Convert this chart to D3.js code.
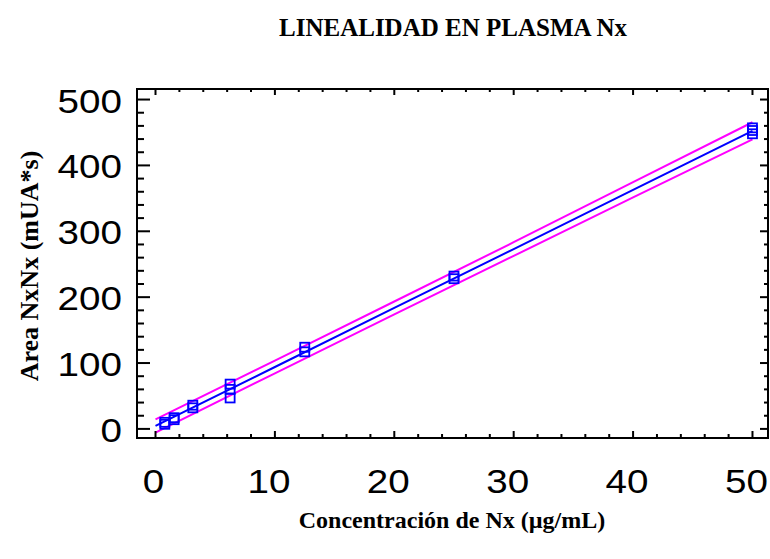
<!DOCTYPE html>
<html>
<head>
<meta charset="utf-8">
<script src="https://cdn.jsdelivr.net/npm/d3@7"></script>
<style>
  body { margin: 0; background: #fff; }
  svg { display: block; }
</style>
</head>
<body>
<div id="chart"></div>
<script>
// observed points (concentration, area)
var concX = [0.78, 0.78, 1.56, 1.56, 3.125, 3.125, 6.25, 6.25, 6.25, 12.5, 12.5, 25, 25, 50, 50, 50];
var areaY = [7, 10, 14, 17, 32, 36, 47, 60, 68, 117, 124, 228, 232, 448, 453, 457];

// fitted line and prediction limits
var fitX   = [0, 10, 20, 30, 40, 50];
var fitY   = [4.5, 94, 183.7, 273, 363, 452.5];
var upperY = [14.5, 103.6, 193.4, 283.4, 374.5, 465.5];
var lowerY = [-5.5, 84.4, 174, 262.6, 351.5, 439.5];

var xTicks = [0, 10, 20, 30, 40, 50];
var yTicks = [0, 100, 200, 300, 400, 500];

var width = 770, height = 559;
var margin = {top: 89, right: 2, bottom: 121, left: 137};

var svg = d3.select("#chart").append("svg")
  .attr("width", width)
  .attr("height", height);

var x = d3.scaleLinear().domain([-1.55, 51.3]).range([margin.left, width - margin.right]);
var y = d3.scaleLinear().domain([-13.8, 516]).range([height - margin.bottom, margin.top]);

var serif = "'Liberation Serif', 'Times New Roman', serif";
var sans = "'Liberation Sans', Arial, sans-serif";

// title
svg.append("text")
  .attr("x", 453).attr("y", 36)
  .attr("text-anchor", "middle")
  .style("font-family", serif).style("font-weight", "bold").style("font-size", "25px")
  .text("LINEALIDAD EN PLASMA Nx");

// clip for marks
svg.append("clipPath").attr("id", "clip")
  .append("rect")
  .attr("x", margin.left).attr("y", margin.top)
  .attr("width", width - margin.right - margin.left)
  .attr("height", height - margin.bottom - margin.top);

var plot = svg.append("g").attr("clip-path", "url(#clip)");

var line = d3.line()
  .x(function(d) { return x(d[0]); })
  .y(function(d) { return y(d[1]); });

plot.append("path")
  .datum(d3.zip(fitX, upperY))
  .attr("d", line)
  .attr("fill", "none").attr("stroke", "#ff00ff").attr("stroke-width", 2);

plot.append("path")
  .datum(d3.zip(fitX, lowerY))
  .attr("d", line)
  .attr("fill", "none").attr("stroke", "#ff00ff").attr("stroke-width", 2);

plot.append("path")
  .datum(d3.zip(fitX, fitY))
  .attr("d", line)
  .attr("fill", "none").attr("stroke", "#0000ff").attr("stroke-width", 2);

// points as open squares
var sq = 9;
plot.selectAll(".pt")
  .data(d3.zip(concX, areaY))
  .enter().append("rect")
  .attr("class", "pt")
  .attr("x", function(d) { return x(d[0]) - sq / 2; })
  .attr("y", function(d) { return y(d[1]) - sq / 2; })
  .attr("width", sq).attr("height", sq)
  .attr("fill", "none").attr("stroke", "#0000ff").attr("stroke-width", 1.8);

// frame
var x0 = x.range()[0], x1 = x.range()[1], y0 = y.range()[0], y1 = y.range()[1];
svg.append("rect")
  .attr("x", x0).attr("y", y1)
  .attr("width", x1 - x0).attr("height", y0 - y1)
  .attr("fill", "none").attr("stroke", "#000").attr("stroke-width", 2);

// ticks, drawn inward on all four sides
var xMinor = d3.range(0, 51, 2);
var yMinor = d3.range(0, 501, 20);

function isMajorX(v) { return xTicks.indexOf(v) >= 0; }
function isMajorY(v) { return yTicks.indexOf(v) >= 0; }

var tk = svg.append("g").attr("stroke", "#000").attr("stroke-width", 2);

xMinor.forEach(function(v) {
  var big = isMajorX(v);
  tk.append("line").attr("x1", x(v)).attr("x2", x(v))
    .attr("y1", y0).attr("y2", y0 - (big ? 7 : 4));
  tk.append("line").attr("x1", x(v)).attr("x2", x(v))
    .attr("y1", y1).attr("y2", y1 + (big ? 6 : 3));
});
yMinor.forEach(function(v) {
  var big = isMajorY(v);
  tk.append("line").attr("x1", x0).attr("x2", x0 + (big ? 13 : 7))
    .attr("y1", y(v)).attr("y2", y(v));
  tk.append("line").attr("x1", x1).attr("x2", x1 - (big ? 8 : 4))
    .attr("y1", y(v)).attr("y2", y(v));
});

// tick labels (the original digits are a bit wide, so stretch them)
var stretch = 1.17;

svg.selectAll(".xl")
  .data(xTicks)
  .enter().append("text")
  .attr("transform", function(d) {
    return "translate(" + (x(d) - (d >= 10 ? 6 : 2)) + ",493) scale(" + stretch + ",1)";
  })
  .attr("text-anchor", "middle")
  .style("font-family", sans).style("font-size", "33px")
  .text(function(d) { return d; });

svg.selectAll(".yl")
  .data(yTicks)
  .enter().append("text")
  .attr("transform", function(d) {
    return "translate(122," + (y(d) + 13) + ") scale(" + stretch + ",1)";
  })
  .attr("text-anchor", "end")
  .style("font-family", sans).style("font-size", "33px")
  .text(function(d) { return d; });

// axis titles
svg.append("text")
  .attr("x", 452).attr("y", 528)
  .attr("text-anchor", "middle")
  .style("font-family", serif).style("font-weight", "bold").style("font-size", "24px")
  .text("Concentración de Nx (µg/mL)");

svg.append("text")
  .attr("transform", "translate(38,266) rotate(-90)")
  .attr("text-anchor", "middle")
  .style("font-family", serif).style("font-weight", "bold").style("font-size", "26px")
  .text("Area NxNx (mUA*s)");
</script>
</body>
</html>
